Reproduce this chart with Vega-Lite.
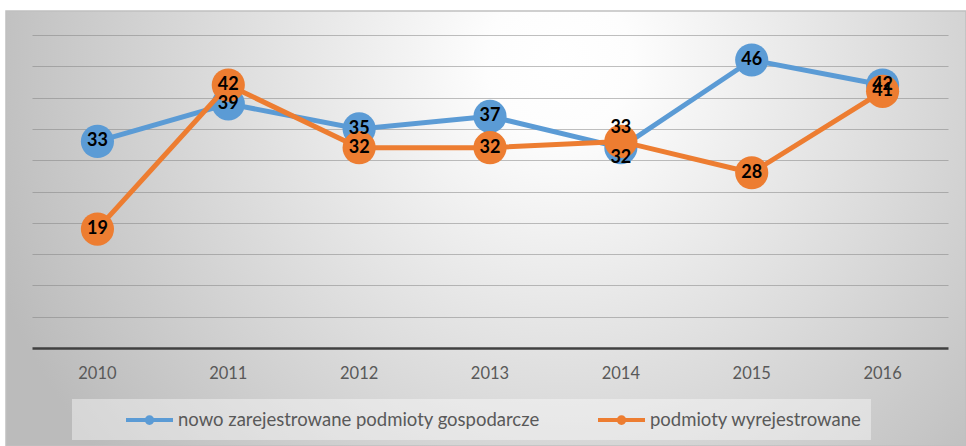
{
  "$schema": "https://vega.github.io/schema/vega-lite/v6.json",
  "width": 960,
  "height": 435,
  "autosize": {"type": "none"},
  "padding": {"left": 6, "top": 11, "right": 0, "bottom": 0},
  "background": "#ffffff",
  "view": {
    "fill": {"gradient": "radial", "x1": 0.577, "y1": 0.325, "r1": 0, "x2": 0.577, "y2": 0.325, "r2": 0.63,
      "stops": [{"offset": 0, "color": "#ffffff"}, {"offset": 0.12, "color": "#fdfdfd"}, {"offset": 1, "color": "#bbbbbb"}]},
    "stroke": "#c0c0c0",
    "strokeWidth": 1.5
  },
  "data": {
    "values": [
      {"year": "2010", "series": "nowo zarejestrowane podmioty gospodarcze", "value": 33},
      {"year": "2011", "series": "nowo zarejestrowane podmioty gospodarcze", "value": 39},
      {"year": "2012", "series": "nowo zarejestrowane podmioty gospodarcze", "value": 35},
      {"year": "2013", "series": "nowo zarejestrowane podmioty gospodarcze", "value": 37},
      {"year": "2014", "series": "nowo zarejestrowane podmioty gospodarcze", "value": 32},
      {"year": "2015", "series": "nowo zarejestrowane podmioty gospodarcze", "value": 46},
      {"year": "2016", "series": "nowo zarejestrowane podmioty gospodarcze", "value": 42},
      {"year": "2010", "series": "podmioty wyrejestrowane", "value": 19},
      {"year": "2011", "series": "podmioty wyrejestrowane", "value": 42},
      {"year": "2012", "series": "podmioty wyrejestrowane", "value": 32},
      {"year": "2013", "series": "podmioty wyrejestrowane", "value": 32},
      {"year": "2014", "series": "podmioty wyrejestrowane", "value": 33},
      {"year": "2015", "series": "podmioty wyrejestrowane", "value": 28},
      {"year": "2016", "series": "podmioty wyrejestrowane", "value": 41}
    ]
  },
  "encoding": {
    "x": {
      "field": "year", "type": "ordinal",
      "scale": {"type": "band", "range": [26, 942], "paddingInner": 0, "paddingOuter": 0},
      "axis": {"title": null, "orient": "bottom", "offset": -98, "labelAngle": 0, "labelFont": "Lato", "labelFontSize": 16.5,
        "labelColor": "#595959", "labelPadding": 17, "ticks": false, "tickSize": 0, "domainColor": "#404040", "domainWidth": 2.5, "grid": false}
    },
    "y": {
      "field": "value", "type": "quantitative",
      "scale": {"domain": [0, 50], "range": [337, 24], "nice": false},
      "axis": {"title": null, "labels": false, "ticks": false, "domain": false, "grid": true,
        "values": [5, 10, 15, 20, 25, 30, 35, 40, 45, 50], "gridColor": "#808080", "gridOpacity": 0.5, "gridWidth": 1.2}
    },
    "color": {
      "field": "series", "type": "nominal",
      "scale": {"domain": ["nowo zarejestrowane podmioty gospodarcze", "podmioty wyrejestrowane"], "range": ["#5B9BD5", "#ED7D31"]},
      "legend": {
        "title": null, "orient": "none", "legendX": 66, "legendY": 388, "direction": "horizontal",
        "fillColor": "rgba(255,255,255,0.4)", "padding": 9,
        "labelFont": "Lato", "labelFontSize": 18.5, "labelColor": "#595959", "labelLimit": 700, "labelOffset": 16.5,
        "symbolType": "M-2.35,0L2.35,0M-0.28,0A0.28,0.28,0,1,0,0.28,0A0.28,0.28,0,1,0,-0.28,0",
        "symbolSize": 400, "symbolStrokeWidth": 4, "symbolOffset": 56.5, "columnPadding": 13,
        "encode": {
          "legend": {"update": {"width": {"value": 835}}},
          "symbols": {"update": {"fill": {"scale": "color", "field": "value"}, "stroke": {"scale": "color", "field": "value"}, "strokeWidth": {"value": 4}, "opacity": {"value": 1}}}
        }
      }
    }
  },
  "layer": [
    {"transform": [{"filter": "datum.series == 'nowo zarejestrowane podmioty gospodarcze'"}], "mark": {"type": "line", "strokeWidth": 5}},
    {"transform": [{"filter": "datum.series == 'nowo zarejestrowane podmioty gospodarcze'"}], "mark": {"type": "point", "filled": true, "opacity": 1, "size": 1100, "strokeWidth": 0}},
    {"transform": [{"filter": "datum.series == 'podmioty wyrejestrowane'"}], "mark": {"type": "line", "strokeWidth": 5}},
    {"transform": [{"filter": "datum.series == 'podmioty wyrejestrowane'"}], "mark": {"type": "point", "filled": true, "opacity": 1, "size": 1100, "strokeWidth": 0}},
    {"transform": [{"filter": "datum.year != '2014'"}],
      "mark": {"type": "text", "font": "Lato", "fontWeight": "bold", "fontSize": 18, "align": "center", "baseline": "middle"},
      "encoding": {"text": {"field": "value", "type": "quantitative"}, "color": {"value": "#000000"}}},
    {"transform": [{"filter": "datum.year == '2014' && datum.series == 'podmioty wyrejestrowane'"}],
      "mark": {"type": "text", "font": "Lato", "fontWeight": "bold", "fontSize": 18, "align": "center", "baseline": "middle", "dy": -13},
      "encoding": {"text": {"field": "value", "type": "quantitative"}, "color": {"value": "#000000"}}},
    {"transform": [{"filter": "datum.year == '2014' && datum.series == 'nowo zarejestrowane podmioty gospodarcze'"}],
      "mark": {"type": "text", "font": "Lato", "fontWeight": "bold", "fontSize": 18, "align": "center", "baseline": "middle", "dy": 10},
      "encoding": {"text": {"field": "value", "type": "quantitative"}, "color": {"value": "#000000"}}}
  ]
}
